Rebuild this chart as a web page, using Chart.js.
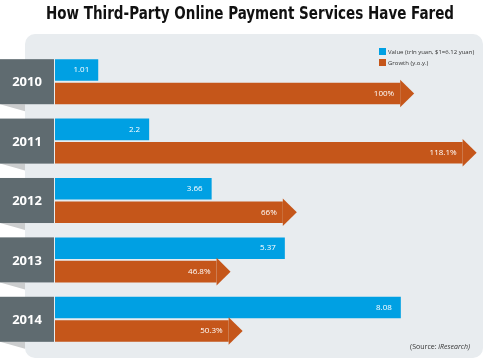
<!DOCTYPE html>
<html>
<head>
<meta charset="utf-8">
<script src="https://cdn.jsdelivr.net/npm/chart.js@4"></script>
<style>
  html, body { margin: 0; padding: 0; background: #fff; }
  #wrap { width: 500px; height: 361px; position: relative; }
</style>
</head>
<body>
<div id="wrap"><canvas id="payChart"></canvas></div>
<script>
const years = ["2010", "2011", "2012", "2013", "2014"];
const valueTrln = [1.01, 2.2, 3.66, 5.37, 8.08];
const growthPct = [100, 118.1, 66, 46.8, 50.3];
const seriesNames = ["Value (trln yuan, $1=6.12 yuan)", "Growth (y.o.y.)"];
const titleText = "How Third-Party Online Payment Services Have Fared";

const BLUE = "#00a0e3";
const ORANGE = "#c5561a";
const BOX = "#5f6b70";
const HEAD = 14;

// title + light grey rounded panel behind the bars
const panelPlugin = {
  id: "panel",
  beforeDraw(chart) {
    const ctx = chart.ctx;
    ctx.save();
    ctx.fillStyle = "#111";
    ctx.font = "bold 18px 'Liberation Sans Narrow', 'DejaVu Sans Condensed', sans-serif";
    ctx.textAlign = "center";
    ctx.textBaseline = "middle";
    // squeeze the title to the condensed width of the original
    const tw = ctx.measureText(titleText).width;
    ctx.translate(250, 14);
    ctx.scale(Math.min(1, 408 / tw), 1);
    ctx.fillText(titleText, 0, 0);
    ctx.restore();

    ctx.save();
    ctx.fillStyle = "#e8ecef";
    ctx.beginPath();
    ctx.roundRect(25, 34, 458, 324, 10);
    ctx.fill();
    ctx.restore();
  }
};

const decoPlugin = {
  id: "deco",
  afterDatasetsDraw(chart) {
    const ctx = chart.ctx;
    const blue = chart.getDatasetMeta(0).data;
    const orange = chart.getDatasetMeta(1).data;
    ctx.save();

    // arrow heads on growth bars
    ctx.fillStyle = ORANGE;
    orange.forEach(b => {
      const h = b.height;
      ctx.beginPath();
      ctx.moveTo(b.x, b.y - h / 2 - 3);
      ctx.lineTo(b.x + HEAD, b.y);
      ctx.lineTo(b.x, b.y + h / 2 + 3);
      ctx.closePath();
      ctx.fill();
    });

    // year boxes + fold shadows
    years.forEach((yr, i) => {
      const top = blue[i].y - blue[i].height / 2;
      const bot = orange[i].y + orange[i].height / 2;
      ctx.fillStyle = "#cbcdce";
      ctx.beginPath();
      ctx.moveTo(0, bot);
      ctx.lineTo(25, bot);
      ctx.lineTo(25, bot + 7);
      ctx.closePath();
      ctx.fill();
      ctx.fillStyle = BOX;
      ctx.fillRect(0, top, 54, bot - top);
      ctx.fillStyle = "#fff";
      ctx.font = "bold 13px 'Open Sans', sans-serif";
      ctx.textAlign = "center";
      ctx.textBaseline = "middle";
      ctx.fillText(yr, 27, (top + bot) / 2 + 1);
    });

    // value labels inside bars
    ctx.font = "8px 'Open Sans', sans-serif";
    ctx.fillStyle = "#fff";
    ctx.textAlign = "right";
    ctx.textBaseline = "middle";
    blue.forEach((b, i) => ctx.fillText(String(valueTrln[i]), b.x - 9, b.y));
    orange.forEach((b, i) => ctx.fillText(growthPct[i] + "%", b.x - 6, b.y));

    // legend
    ctx.font = "6px 'Open Sans', sans-serif";
    ctx.textAlign = "left";
    [BLUE, ORANGE].forEach((c, i) => {
      const y = 48 + i * 11;
      ctx.fillStyle = c;
      ctx.fillRect(379, y, 7, 7);
      ctx.fillStyle = "#333";
      ctx.fillText(seriesNames[i], 388, y + 4);
    });

    // source note
    ctx.textAlign = "right";
    ctx.fillStyle = "#333";
    ctx.font = "italic 7px 'Open Sans', sans-serif";
    const tail = "iResearch)";
    ctx.fillText(tail, 470, 347);
    const w = ctx.measureText(tail).width;
    ctx.font = "7px 'Open Sans', sans-serif";
    ctx.fillText("(Source: ", 470 - w, 347);

    ctx.restore();
  }
};

new Chart(document.getElementById("payChart"), {
  type: "bar",
  data: {
    labels: years,
    datasets: [
      {
        label: seriesNames[0],
        data: valueTrln,
        backgroundColor: BLUE,
        xAxisID: "x",
        categoryPercentage: 0.79,
        barPercentage: 0.92
      },
      {
        label: seriesNames[1],
        data: growthPct,
        backgroundColor: ORANGE,
        xAxisID: "x2",
        categoryPercentage: 0.79,
        barPercentage: 0.92
      }
    ]
  },
  options: {
    indexAxis: "y",
    responsive: true,
    maintainAspectRatio: false,
    animation: false,
    layout: { padding: { left: 55, right: 17, top: 52, bottom: 12 } },
    scales: {
      y: { display: false },
      x: { display: false, min: 0, max: 10 },
      x2: { display: false, min: 0, max: 124, position: "bottom" }
    },
    plugins: {
      legend: { display: false },
      tooltip: { enabled: false },
      title: { display: false }
    }
  },
  plugins: [panelPlugin, decoPlugin]
});
</script>
</body>
</html>
